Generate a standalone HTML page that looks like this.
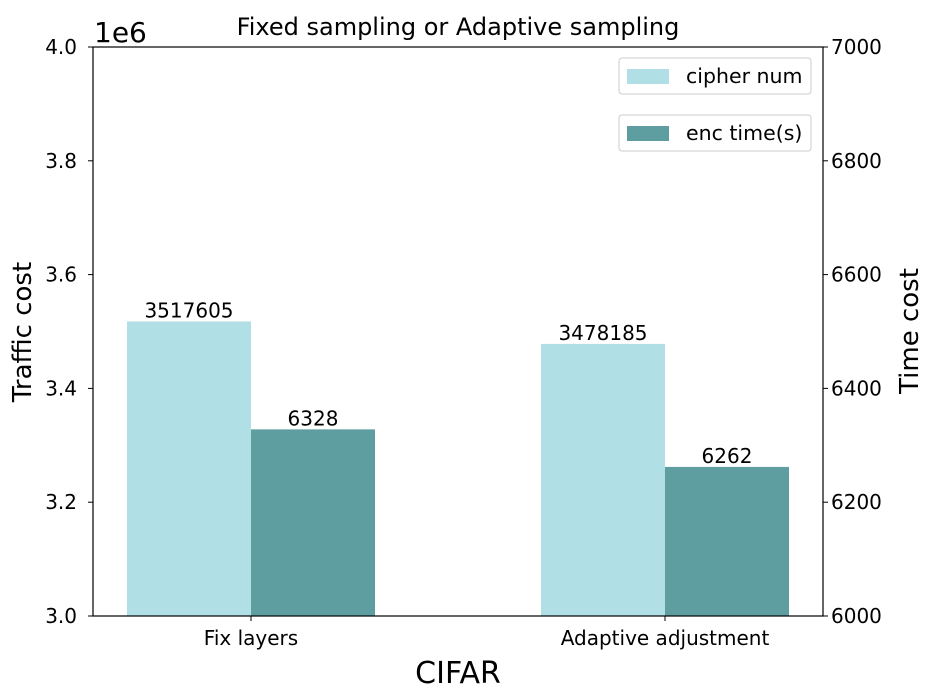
<!DOCTYPE html>
<html><head><meta charset="utf-8"><style>
body{margin:0;background:#fff;}
svg{display:block;font-family:"DejaVu Sans","Liberation Sans",sans-serif;}
</style></head><body>
<svg id="chart" width="935" height="696">
<text x="458" y="35" font-size="24" text-anchor="middle">Fixed sampling or Adaptive sampling</text>
<text x="94" y="42" font-size="28">1e6</text>
<g id="bars"></g>
<g id="axes"></g>
<text x="458" y="683" font-size="30" text-anchor="middle">CIFAR</text>
<text transform="translate(31,332) rotate(-90)" font-size="26" text-anchor="middle">Traffic cost</text>
<text transform="translate(918,331) rotate(-90)" font-size="26" text-anchor="middle">Time cost</text>
<g>
<rect x="619" y="58" width="192" height="36" rx="3" fill="#fff" stroke="#ccc"/>
<rect x="627" y="69" width="42" height="15" fill="#b0dfe5"/>
<text x="686" y="83" font-size="20.5">cipher num</text></g>
<g>
<rect x="619" y="115" width="192" height="36" rx="3" fill="#fff" stroke="#ccc"/>
<rect x="627" y="126" width="42" height="15" fill="#5f9ea0"/>
<text x="686" y="140" font-size="20.5">enc time(s)</text></g>
</svg>
<script>
const categories=["Fix layers","Adaptive adjustment"];
const cipherNum=[3517605,3478185];
const encTime=[6328,6262];
const leftTicks=[3.0,3.2,3.4,3.6,3.8,4.0];
const rightTicks=[6000,6200,6400,6600,6800,7000];
const NS="http://www.w3.org/2000/svg";
const L=93,R=823,T=47,B=616;
const FS=20;
function yL(v){return B-(v/1e6-3)/(4-3)*(B-T);}
function yR(v){return B-(v-6000)/(7000-6000)*(B-T);}
function xC(i){return 251+i*414;}
const bw=124;
function mk(tag,attrs,parent){const e=document.createElementNS(NS,tag);for(const k in attrs)e.setAttribute(k,attrs[k]);parent.appendChild(e);return e;}
const bars=document.getElementById('bars'),axes=document.getElementById('axes');
categories.forEach((c,i)=>{
 const x=xC(i);
 let y=yL(cipherNum[i]);
 let r=mk('rect',{x:x-bw,y:y,width:bw,height:B-y,fill:'#b0dfe5'},bars);
 
 
 let t=mk('text',{x:x-bw/2,y:y-4,'font-size':FS,'text-anchor':'middle'},bars);t.textContent=cipherNum[i];
 
 
 y=yR(encTime[i]);
 r=mk('rect',{x:x,y:y,width:bw,height:B-y,fill:'#5f9ea0'},bars);
 
 
 t=mk('text',{x:x+bw/2,y:y-4,'font-size':FS,'text-anchor':'middle'},bars);t.textContent=encTime[i];
 
 
 mk('line',{x1:x,x2:x,y1:B,y2:B+5,stroke:'#000'},axes);
 t=mk('text',{x:x,y:B+29,'font-size':FS,'text-anchor':'middle'},axes);t.textContent=c;
 
 
});
mk('rect',{x:L,y:T,width:R-L,height:B-T,fill:'none',stroke:'#000','stroke-width':1.2},axes);
leftTicks.forEach(v=>{const y=yL(v*1e6);mk('line',{x1:L-5,x2:L,y1:y,y2:y,stroke:'#000'},axes);
 const t=mk('text',{x:L-16,y:y+7,'font-size':FS,'text-anchor':'end'},axes);t.textContent=v.toFixed(1);
 
 });
rightTicks.forEach(v=>{const y=yR(v);mk('line',{x1:R,x2:R+5,y1:y,y2:y,stroke:'#000'},axes);
 const t=mk('text',{x:R+8,y:y+7,'font-size':FS},axes);t.textContent=v;
 
 });
</script>
</body></html>
